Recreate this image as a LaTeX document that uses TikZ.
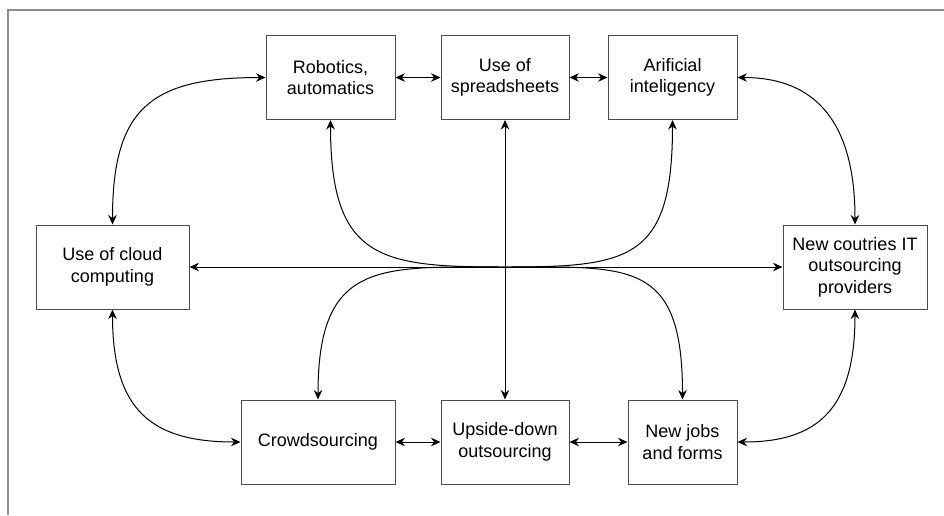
\documentclass[tikz,border=0pt]{standalone}
\usepackage{fontspec}
\setmainfont{Liberation Sans}
\usetikzlibrary{arrows.meta}
\begin{document}
\begin{tikzpicture}[x=1pt,y=-1pt,
 box/.style={draw=black!70,line width=1pt,fill=white,minimum height=84pt,inner sep=0pt,align=center,font=\fontsize{18}{21.5}\selectfont},
 conn/.style={line width=1pt,{Stealth[length=9.5pt,width=8.5pt]}-{Stealth[length=9.5pt,width=8.5pt]}},
 frameline/.style={draw=black!45,line width=1.5pt}]
\useasboundingbox (0,0) rectangle (944,515);
\coordinate (fb) at (8,515);
\coordinate (fc) at (8,10);
\coordinate (fr) at (944,10);
\draw[frameline] (fb) -- (fc) -- (fr);

\node[box,minimum width=129pt] (rob) at (330.5,77.5) {Robotics,\\automatics};
\node[box,minimum width=128pt] (spr) at (505,77.5) {Use of\\spreadsheets};
\node[box,minimum width=129pt] (ari) at (672.5,77.5) {Arificial\\inteligency};
\node[box,minimum width=153pt] (cld) at (112.5,267) {Use of cloud\\computing};
\node[box,minimum width=144pt] (newc) at (855,267) {New coutries IT\\outsourcing\\providers};
\node[box,minimum width=154pt] (crd) at (318,442) {Crowdsourcing};
\node[box,minimum width=128pt] (ups) at (505,442) {Upside-down\\outsourcing};
\node[box,minimum width=109pt] (nj) at (682.5,442) {New jobs\\and forms};
\coordinate (c) at (505,267);

\draw[conn] (rob.east) -- (spr.west);
\draw[conn] (spr.east) -- (ari.west);
\draw[conn] (crd.east) -- (ups.west);
\draw[conn] (ups.east) -- (nj.west);
\draw[conn] (cld.east) -- (newc.west);
\draw[conn] (spr.south) -- (ups.north);

\draw[conn] (cld.north) .. controls +(0,-115) and +(-116,0) .. (rob.west);
\draw[conn] (ari.east) .. controls +(80,0) and +(0,-100) .. (newc.north);
\draw[conn] (cld.south) .. controls +(0,100) and +(-90,0) .. (crd.west);
\draw[conn] (nj.east) .. controls +(80,0) and +(0,100) .. (newc.south);

\draw[conn] (rob.south) .. controls +(0,140) and +(-125,0) .. (c) .. controls +(125,0) and +(0,-140) .. (nj.north);
\draw[conn] (ari.south) .. controls +(0,140) and +(125,0) .. (c) .. controls +(-125,0) and +(0,-140) .. (crd.north);
\end{tikzpicture}
\end{document}
